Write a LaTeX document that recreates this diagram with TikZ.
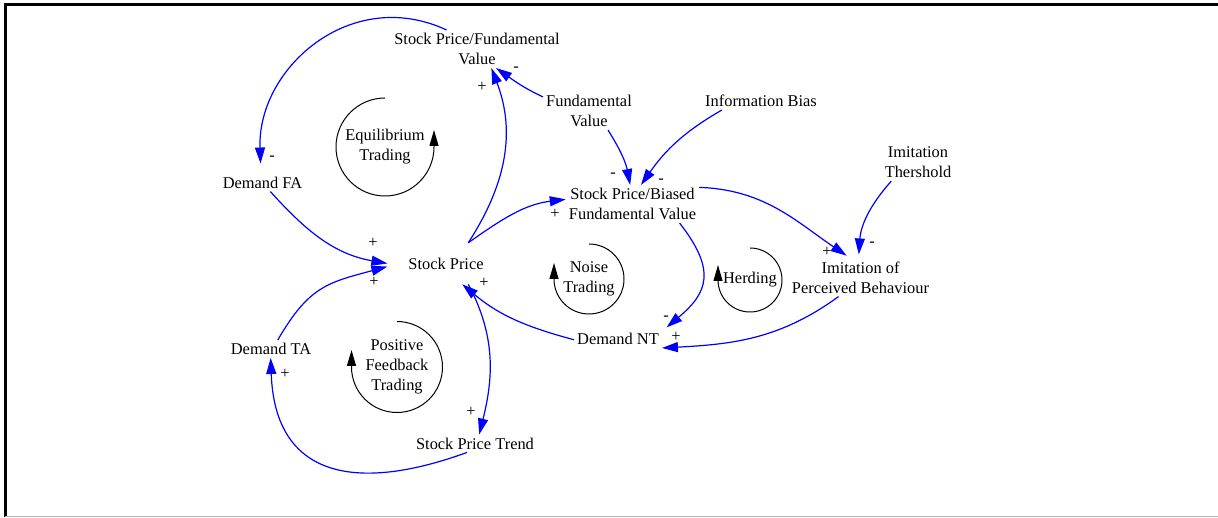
\documentclass[tikz,border=0pt]{standalone}
\usepackage{fontspec}
\setmainfont{Liberation Serif}
\usetikzlibrary{arrows.meta}

\begin{document}
\begin{tikzpicture}[
    x=1pt, y=1pt,
    font=\fontsize{16.4}{20}\selectfont,
    var/.style={align=center, inner sep=3pt},
    link/.style={blue, line width=1.2pt, -{Triangle[length=16pt,width=10pt]}},
    loop/.style={line width=1pt, -{Triangle[length=16pt,width=9pt]}},
    sign/.style={inner sep=0pt, text height=8pt, text depth=0pt},
]
\useasboundingbox (0,0) rectangle (1218,-518);
\draw[line width=3pt] (1218,-5) -- (5,-5) -- (5,-517);
\draw[gray!60, line width=1.5pt] (5,-516.5) -- (1218,-516.5);

\node[var] (spfv) at (477,-49) {Stock Price/Fundamental\\Value};
\node[var] (fv) at (589,-111) {Fundamental\\Value};
\node[var] (ib) at (761,-101) {Information Bias};
\node[var] (spbfv) at (632.5,-204) {Stock Price/Biased\\Fundamental Value};
\node[var] (it) at (918,-162.5) {Imitation\\Thershold};
\node[var] (ipb) at (860.5,-277.5) {Imitation of\\Perceived Behaviour};
\node[var] (dfa) at (262.5,-182.5) {Demand FA};
\node[var, outer xsep=18pt, outer ysep=12pt] (sp) at (446,-263.5) {Stock Price};
\node[var] (dnt) at (618,-339) {Demand NT};
\node[var] (dta) at (271,-349) {Demand TA};
\node[var] (spt) at (475,-443.5) {Stock Price Trend};

\draw[link, shorten >=10pt] (spfv.148) to[out=155, in=92, looseness=1.15] (dfa.100);
\draw[link] (dfa.-49) to[out=-48, in=170] (sp.west);
\draw[link] (dta.53) to[out=60, in=195, looseness=1.2] (sp.183);
\draw[link] (sp.43) to[out=57, in=-69] (spfv.-53);
\draw[link] (sp.43) to[out=35, in=187] (spbfv.176);
\draw[link] (fv.163) to[out=155, in=-35] (spfv.-45);
\draw[link] (fv.-45) to[out=-58, in=101] (spbfv.97);
\draw[link] (ib.193) to[out=210, in=55] (spbfv.66);
\draw[link, shorten >=5pt] (spbfv.14) to[out=-2, in=146] (ipb.117);
\draw[link, shorten >=4pt] (it.215) to[out=228, in=86] (ipb.96);
\draw[link, shorten >=6pt] (spbfv.-22) to[out=-52, in=40, looseness=1.4] (dnt.10);
\draw[link] (ipb.221) to[out=216, in=3] (dnt.south east);
\draw[link] (dnt.181) to[out=165, in=-40] (sp.-52);
\draw[link] (sp.-43) to[out=-62, in=76] (spt.65);
\draw[link] (spt.228) to[out=200, in=-88, looseness=1.4] (dta.-92);

\node[sign] (pol1) at (272,-157) {-};
\node[sign] (pol2) at (373,-244) {+};
\node[sign] (pol3) at (374,-283) {+};
\node[sign] (pol4) at (482,-88) {+};
\node[sign] (pol5) at (555,-215) {+};
\node[sign] (pol6) at (516,-68) {-};
\node[sign] (pol7) at (613,-174) {-};
\node[sign] (pol8) at (661,-180) {-};
\node[sign] (pol9) at (827,-253) {+};
\node[sign] (pol10) at (872,-243) {-};
\node[sign] (pol11) at (666,-317) {-};
\node[sign] (pol12) at (676,-338) {+};
\node[sign] (pol13) at (484,-284) {+};
\node[sign] (pol14) at (471,-413) {+};
\node[sign] (pol15) at (285,-374) {+};

\node[var] (eqt) at (385,-147) {Equilibrium\\Trading};
\draw[loop] ([shift={(90:49)}]eqt.center) arc[start angle=90, end angle=360, radius=49] -- ++(0,17);
\node[var] (nst) at (589,-279) {Noise\\Trading};
\draw[loop] ([shift={(90:35)}]nst.center) arc[start angle=90, end angle=-180, radius=35] -- ++(0,16);
\node[var] (hrd) at (750,-280) {Herding};
\draw[loop] ([shift={(90:32)}]hrd.center) arc[start angle=90, end angle=-180, radius=32] -- ++(0,15);
\node[var] (pft) at (397,-367) {Positive\\Feedback\\Trading};
\draw[loop] ([shift={(90:45.5)}]pft.center) arc[start angle=90, end angle=-180, radius=45.5] -- ++(0,17);
\end{tikzpicture}
\end{document}
